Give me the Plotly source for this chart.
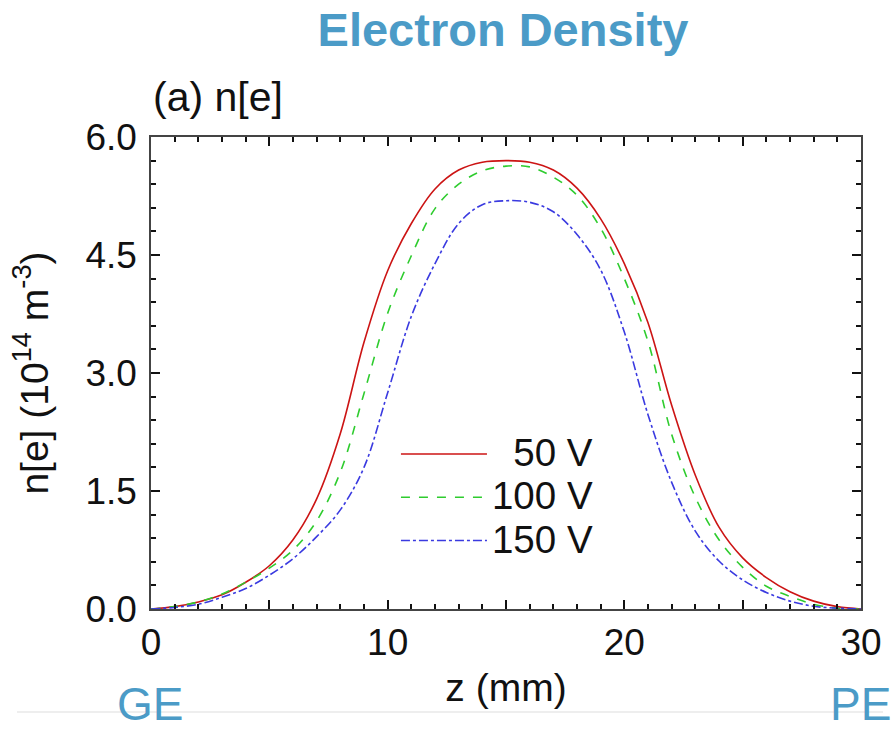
import plotly.graph_objects as go

# ---- data ----
z_mm = list(range(0, 31))
n_50V = [0.00, 0.03, 0.09, 0.18, 0.34, 0.55, 0.88, 1.40, 2.23, 3.39, 4.30, 4.90,
         5.34, 5.58, 5.68, 5.70, 5.68, 5.58, 5.35, 4.96, 4.39, 3.64, 2.59, 1.70,
         1.04, 0.65, 0.40, 0.22, 0.10, 0.03, 0.00]
n_100V = [0.00, 0.03, 0.09, 0.19, 0.34, 0.52, 0.75, 1.12, 1.74, 2.74, 3.76, 4.49,
          5.09, 5.40, 5.57, 5.63, 5.62, 5.49, 5.26, 4.84, 4.20, 3.40, 2.22, 1.42,
          0.88, 0.53, 0.29, 0.16, 0.06, 0.01, 0.00]
n_150V = [0.00, 0.02, 0.06, 0.15, 0.26, 0.43, 0.64, 0.92, 1.26, 1.80, 2.75, 3.72,
          4.39, 4.90, 5.14, 5.19, 5.17, 5.05, 4.76, 4.31, 3.52, 2.47, 1.61, 0.99,
          0.61, 0.37, 0.21, 0.10, 0.035, 0.01, 0.00]
series_names = ["\u00a0\u00a050 V", "100 V", "150 V"]
series_colors = ["#cc1414", "#2ecc2e", "#3a3ae0"]
series_dash = ["solid", "dash", "dashdot"]

y_tickvals = [0, 1.5, 3.0, 4.5, 6.0]
y_ticktext = ["0.0", "1.5", "3.0", "4.5", "6.0"]

FONT = "Liberation Sans, Arial, sans-serif"
ACCENT = "#4b9bc7"

fig = go.Figure()
for name, ys, col, dash in zip(series_names, [n_50V, n_100V, n_150V], series_colors, series_dash):
    fig.add_trace(go.Scatter(
        x=z_mm, y=ys, mode="lines",
        name='<span style="font-size:38.5px">' + name + '</span>',
        line=dict(color=col, width=1.6, dash=dash, shape="spline", smoothing=1.0)))

axis_common = dict(showgrid=False, zeroline=False, showline=True, linecolor="#444", linewidth=1.5,
                   mirror="allticks", ticks="inside", ticklen=9, tickwidth=2, tickcolor="#111",
                   tickfont=dict(family=FONT, size=37, color="#111"))

# major ticks every 5 mm (labels on every second one), minor every 1 mm
fig.update_xaxes(range=[0, 30], tickmode="linear", tick0=0, dtick=5, ticklabelstep=2,
                 minor=dict(dtick=1, ticks="inside", ticklen=5, tickwidth=2, tickcolor="#111"),
                 title=dict(text="z (mm)", font=dict(family=FONT, size=39, color="#111"), standoff=12),
                 **axis_common)
fig.update_yaxes(range=[0, 6], tickmode="array", tickvals=y_tickvals, ticktext=y_ticktext,
                 ticklabelstandoff=5,
                 minor=dict(dtick=0.3, ticks="inside", ticklen=5, tickwidth=2, tickcolor="#111"),
                 title=dict(text="n[e] (10<sup>14</sup> m<sup>-3</sup>)",
                            font=dict(family=FONT, size=39, color="#111"), standoff=25),
                 **axis_common)

fig.update_layout(
    width=891, height=729,
    margin=dict(l=151, r=30, t=137, b=120, autoexpand=False),
    paper_bgcolor="white", plot_bgcolor="white",
    title=dict(text="<b>Electron Density</b>", x=503 / 891, xanchor="center", y=1 - 30 / 729,
               yanchor="middle", font=dict(family=FONT, size=47, color=ACCENT)),
    legend=dict(x=0.345, y=0.385, xanchor="left", yanchor="top", bgcolor="rgba(0,0,0,0)",
                font=dict(family=FONT, size=31, color="#111"), itemwidth=86, tracegroupgap=0),
    annotations=[
        dict(text="(a) n[e]", xref="paper", yref="paper", x=0.0, y=(609 - 97) / 472,
             xanchor="left", yanchor="middle", showarrow=False,
             font=dict(family=FONT, size=41, color="#111")),
        dict(text="GE", xref="paper", yref="paper", x=(150 - 151) / 710, y=(609 - 704) / 472,
             xanchor="center", yanchor="middle", showarrow=False,
             font=dict(family=FONT, size=46, color=ACCENT)),
        dict(text="PE", xref="paper", yref="paper", x=(860 - 151) / 710, y=(609 - 704) / 472,
             xanchor="center", yanchor="middle", showarrow=False,
             font=dict(family=FONT, size=46, color=ACCENT)),
    ],
    shapes=[dict(type="line", xref="paper", yref="paper", x0=(17 - 151) / 710, x1=(883 - 151) / 710,
                 y0=(609 - 712) / 472, y1=(609 - 712) / 472, line=dict(color="#dddddd", width=1),
                 layer="below")],
)

fig.write_html("out.html")
